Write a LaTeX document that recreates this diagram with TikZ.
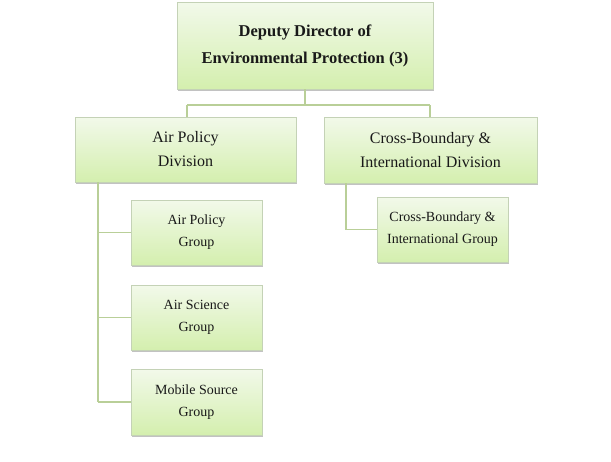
\documentclass[tikz,border=0pt]{standalone}
\usepackage{fontspec}
\setmainfont{Liberation Serif}
\usetikzlibrary{shadows}
\definecolor{boxtop}{HTML}{F2F9EA}
\definecolor{boxbot}{HTML}{D4EFAE}
\definecolor{boxline}{HTML}{C4D2B6}
\definecolor{conn}{HTML}{B9CF98}
\begin{document}
\begin{tikzpicture}[x=1pt,y=-1pt,
  orgbox/.style={draw=boxline, line width=0.8pt, top color=boxtop, bottom color=boxbot,
    drop shadow={shadow xshift=1.2pt, shadow yshift=-1.5pt, opacity=0.4, fill=black!60},
    align=center, inner sep=0pt, text=black!90},
  link/.style={draw=conn, line width=1.8pt}]
\useasboundingbox (0,0) rectangle (611,461);
% boxes
\node[orgbox, minimum width=256pt, minimum height=87pt, font=\fontsize{16.5}{27}\selectfont\bfseries] (top) at (305,45.5) {Deputy Director of\\Environmental Protection (3)};
\node[orgbox, minimum width=221pt, minimum height=65pt, font=\fontsize{16}{24}\selectfont] (apd) at (185.5,149.5) {Air Policy\\Division};
\node[orgbox, minimum width=213pt, minimum height=66pt, font=\fontsize{16}{24}\selectfont] (cbd) at (430.5,150) {Cross-Boundary \&\\International Division};
\node[orgbox, minimum width=131pt, minimum height=65pt, font=\fontsize{14}{22}\selectfont] (apg) at (196.5,232.5) {Air Policy\\Group};
\node[orgbox, minimum width=131pt, minimum height=65pt, font=\fontsize{14}{22}\selectfont] (asg) at (196.5,317.5) {Air Science\\Group};
\node[orgbox, minimum width=131pt, minimum height=66pt, font=\fontsize{14}{22}\selectfont] (msg) at (196.5,402) {Mobile Source\\Group};
\node[orgbox, minimum width=131pt, minimum height=65pt, font=\fontsize{14}{22}\selectfont] (cbg) at (442.5,229.5) {Cross-Boundary \&\\International Group};
% connectors
\coordinate (hub) at (305,105);
\coordinate (hl) at (187,105);
\coordinate (hr) at (430,105);
\draw[link] (top.south) -- (hub);
\draw[link] (hl) -- (hr);
\draw[link] (hl) -- (hl |- apd.north);
\draw[link] (hr) -- (hr |- cbd.north);
\coordinate (vl) at (98,0);
\draw[link] (vl |- apd.south) -- (vl |- msg.center);
\draw[link] (vl |- apg.center) -- (apg.west);
\draw[link] (vl |- asg.center) -- (asg.west);
\draw[link] (vl |- msg.center) -- (msg.west);
\coordinate (vr) at (346,0);
\draw[link] (vr |- cbd.south) -- (vr |- cbg.center) -- (cbg.west);
\end{tikzpicture}
\end{document}
